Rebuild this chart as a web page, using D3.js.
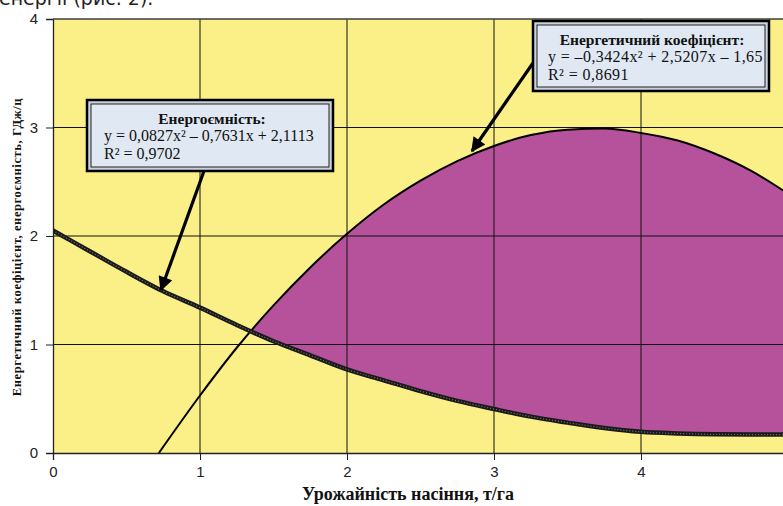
<!DOCTYPE html>
<html><head><meta charset="utf-8">
<script src="https://cdn.jsdelivr.net/npm/d3@7"></script>
<style>body{margin:0;background:#fff;overflow:hidden}svg{display:block}</style>
</head><body>
<script>
// ---- data ----
const xTicks = [0, 1, 2, 3, 4];
const yTicks = [0, 1, 2, 3, 4];
const lowerX = [0,0.25,0.5,0.75,1,1.25,1.5,1.75,2,2.25,2.5,2.75,3,3.25,3.5,3.75,4,4.25,4.5,4.75,5];
const lowerY = [2.05,1.86,1.67,1.49,1.34,1.18,1.03,0.90,0.77,0.67,0.57,0.48,0.405,0.335,0.28,0.23,0.195,0.18,0.172,0.17,0.17];
const upperX = [0.72,1,1.25,1.5,1.75,2,2.25,2.5,2.75,3,3.25,3.5,3.75,4,4.25,4.5,4.75,5];
const upperY = [0,0.53,0.97,1.36,1.71,2.02,2.29,2.51,2.69,2.83,2.93,2.98,2.99,2.95,2.88,2.76,2.60,2.39];
const xTitle = "Урожайність насіння, т/га";
const yTitle = "Енергетичний коефіцієнт, енергоємність, ГДж/ц";
const topText = "енергії (рис. 2).";
const box1Lines = ["Енергоємність:", "y = 0,0827x² – 0,7631x + 2,1113", "R² = 0,9702"];
const box2Lines = ["Енергетичний коефіцієнт:", "y = –0,3424x² + 2,5207x – 1,65", "R² = 0,8691"];

const W = 783, H = 506;
const svg = d3.select("body").append("svg").attr("width", W).attr("height", H);
const x = d3.scaleLinear().domain([0, 5]).range([53, 788]);
const y = d3.scaleLinear().domain([0, 4]).range([453, 19]);

const lower = lowerX.map((v, i) => [v, lowerY[i]]);
const upper = upperX.map((v, i) => [v, upperY[i]]);

// top cut text (cut off in the reference as well)
svg.append("text").attr("x", -1).attr("y", 5).attr("font-family", "DejaVu Sans")
  .attr("font-size", 19).attr("fill", "#222").text(topText);

// plot background
svg.append("rect").attr("x", x(0)).attr("y", y(4)).attr("width", x(5) - x(0)).attr("height", y(0) - y(4))
  .attr("fill", "#FAF087");

const defs = svg.append("defs");
defs.append("clipPath").attr("id", "underUpper").append("path")
  .attr("d", d3.area().x(d => x(d[0])).y0(y(0)).y1(d => y(d[1])).curve(d3.curveMonotoneX)(upper));
defs.append("clipPath").attr("id", "plot").append("rect")
  .attr("x", x(0)).attr("y", y(4)).attr("width", x(5) - x(0)).attr("height", y(0) - y(4));

svg.append("path").attr("clip-path", "url(#underUpper)")
  .attr("d", d3.area().x(d => x(d[0])).y0(y(4)).y1(d => y(d[1])).curve(d3.curveMonotoneX)(lower))
  .attr("fill", "#B6529C");

// gridlines
svg.append("g").selectAll("line").data(xTicks.filter(d => d > 0)).join("line")
  .attr("x1", d => x(d)).attr("x2", d => x(d)).attr("y1", y(4)).attr("y2", y(0))
  .attr("stroke", "#111").attr("stroke-width", 1);
svg.append("g").selectAll("line").data(yTicks.filter(d => d > 0)).join("line")
  .attr("x1", x(0)).attr("x2", x(5)).attr("y1", d => y(d)).attr("y2", d => y(d))
  .attr("stroke", "#111").attr("stroke-width", 1);

const line = d3.line().x(d => x(d[0])).y(d => y(d[1])).curve(d3.curveMonotoneX);
const g = svg.append("g").attr("clip-path", "url(#plot)");
g.append("path").attr("d", line(upper)).attr("fill", "none").attr("stroke", "#000").attr("stroke-width", 2);
g.append("path").attr("d", line(lower)).attr("fill", "none").attr("stroke", "#1a1a1a").attr("stroke-width", 4.5);
g.append("path").attr("d", line(lower)).attr("fill", "none").attr("stroke", "#777").attr("stroke-width", 1.2).attr("stroke-dasharray", "1,2");

// axes
const xAxis = svg.append("g").attr("transform", `translate(0,${y(0)})`)
  .call(d3.axisBottom(x).tickValues(xTicks).tickSize(7).tickFormat(d3.format("d")));
const yAxis = svg.append("g").attr("transform", `translate(${x(0)},0)`)
  .call(d3.axisLeft(y).tickValues(yTicks).tickSize(7).tickFormat(d3.format("d")));
[xAxis, yAxis].forEach(a => {
  a.select(".domain").attr("stroke", "#222").attr("stroke-width", 1.3);
  a.selectAll(".tick line").attr("stroke", "#222");
  a.selectAll("text").attr("font-family", "Liberation Sans Narrow, Liberation Sans").attr("font-size", 15).attr("fill", "#222");
});
xAxis.selectAll("text").attr("y", 12).attr("dy", "0.8em");
yAxis.selectAll("text").attr("x", -15);
svg.append("line").attr("x1", x(0)).attr("x2", x(5)).attr("y1", y(4)).attr("y2", y(4)).attr("stroke", "#555").attr("stroke-width", 1);

// titles
svg.append("text").attr("x", 408).attr("y", 500).attr("text-anchor", "middle")
  .attr("font-family", "Liberation Serif").attr("font-weight", "bold").attr("font-size", 18).attr("fill", "#111").text(xTitle);
svg.append("text").attr("transform", "translate(21,247) rotate(-90)").attr("text-anchor", "middle")
  .attr("font-family", "Liberation Serif").attr("font-weight", "bold").attr("font-size", 12.5)
  .attr("letter-spacing", 0.6).attr("fill", "#111").text(yTitle);

// arrows
defs.append("marker").attr("id", "arr").attr("viewBox", "0 0 10 10").attr("refX", 9).attr("refY", 5)
  .attr("markerWidth", 5.5).attr("markerHeight", 4.5).attr("orient", "auto")
  .append("path").attr("d", "M0,0 L10,5 L0,10 Z").attr("fill", "#000");
function arrow(x1, y1, x2, y2) {
  svg.append("line").attr("x1", x1).attr("y1", y1).attr("x2", x2).attr("y2", y2)
    .attr("stroke", "#000").attr("stroke-width", 3.2).attr("marker-end", "url(#arr)");
}
arrow(204, 171, 161, 290);
arrow(533, 63, 472, 151);

// boxes
function box(bx, by, bw, bh, lines, cx, lx, ls) {
  const gb = svg.append("g");
  gb.append("rect").attr("x", bx).attr("y", by).attr("width", bw).attr("height", bh)
    .attr("fill", "#C9D1DB").attr("stroke", "#000").attr("stroke-width", 2.5);
  gb.append("rect").attr("x", bx + 4).attr("y", by + 4).attr("width", bw - 8).attr("height", bh - 8)
    .attr("fill", "#DFE8F3").attr("stroke", "#222").attr("stroke-width", 1);
  gb.append("text").attr("x", cx).attr("y", by + 24).attr("text-anchor", "middle")
    .attr("font-family", "Liberation Serif").attr("font-weight", "bold").attr("font-size", 15.5).attr("fill", "#111").text(lines[0]);
  gb.append("text").attr("x", lx).attr("y", by + 41)
    .attr("font-family", "Liberation Serif").attr("font-size", 16).attr("letter-spacing", ls).attr("fill", "#111").text(lines[1]);
  gb.append("text").attr("x", lx).attr("y", by + 59)
    .attr("font-family", "Liberation Serif").attr("font-size", 16).attr("letter-spacing", ls).attr("fill", "#111").text(lines[2]);
}
box(87, 100, 246, 71, box1Lines, 212, 104, 0);
box(533, 21, 236, 70, box2Lines, 652, 548, 0.4);
</script>
</body></html>
